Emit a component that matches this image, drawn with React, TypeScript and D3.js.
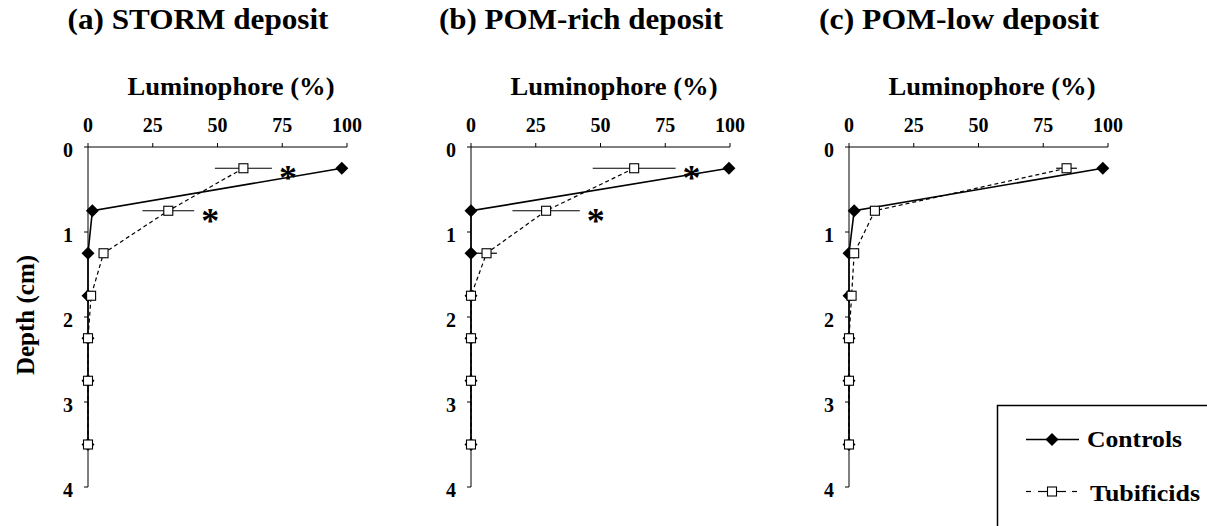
import React from 'react';
import * as d3 from 'd3';

// depth midpoints of each slice (cm)
const depths = [0.25, 0.75, 1.25, 1.75, 2.25, 2.75, 3.5];
const depthTicks = [0, 1, 2, 3, 4];
const lumTicks = [0, 25, 50, 75, 100];

const titles = ['(a) STORM deposit', '(b) POM-rich deposit', '(c) POM-low deposit'];
const titleWidths = [261, 284, 280];

const stormControls = [98, 1.7, 0, 0, 0, 0, 0];
const stormTubificids = [60, 31, 6, 1.2, 0, 0, 0];
const stormTubErr = [11, 10, 0, 0, 0, 0, 0];
const stormSignif = [true, true, false, false, false, false, false];

const richControls = [99.6, 0, 0, 0, 0, 0, 0];
const richTubificids = [63, 29, 6, 0, 0, 0, 0];
const richTubErr = [16, 13, 4, 0, 0, 0, 0];
const richSignif = [true, true, false, false, false, false, false];

const lowControls = [98, 2, 0, 0, 0, 0, 0];
const lowTubificids = [84, 10, 2, 1, 0, 0, 0];
const lowTubErr = [4, 0, 0, 0, 0, 0, 0];
const lowSignif = [false, false, false, false, false, false, false];

const FONT = '"Liberation Serif", "DejaVu Serif", "Times New Roman", serif';

const panels = [
  { title: titles[0], tw: titleWidths[0], controls: stormControls, tub: stormTubificids, err: stormTubErr, sig: stormSignif, left: 88 },
  { title: titles[1], tw: titleWidths[1], controls: richControls, tub: richTubificids, err: richTubErr, sig: richSignif, left: 471 },
  { title: titles[2], tw: titleWidths[2], controls: lowControls, tub: lowTubificids, err: lowTubErr, sig: lowSignif, left: 849 },
];

const diamond = (cx: number, cy: number) =>
  `M${cx},${cy - 6.5}L${cx + 6.5},${cy}L${cx},${cy + 6.5}L${cx - 6.5},${cy}Z`;

const txt = { fontFamily: FONT, fontWeight: 700 } as React.CSSProperties;

const Panel = ({ p }: { p: typeof panels[0] }) => {
  const x = d3.scaleLinear().domain([0, 100]).range([p.left, p.left + 259]);
  const y = d3.scaleLinear().domain([0, 4]).range([147, 487]);
  const line = d3.line<number>().x(d => x(d)).y((d, i) => y(depths[i]));

  return (
    <g>
      <text x={p.left + 110} y={29} textAnchor="middle" fontSize={29} style={txt}
        textLength={p.tw} lengthAdjust="spacingAndGlyphs">{p.title}</text>
      <text x={p.left + 143} y={95} textAnchor="middle" fontSize={25} style={txt}
        textLength={207} lengthAdjust="spacingAndGlyphs">Luminophore (%)</text>

      {/* top x axis */}
      <line x1={x(0)} x2={x(100)} y1={y(0)} y2={y(0)} stroke="#000" />
      {lumTicks.map(t => (
        <g key={t}>
          <line x1={x(t)} x2={x(t)} y1={y(0)} y2={y(0) - 4} stroke="#000" />
          <text x={x(t)} y={132} textAnchor="middle" fontSize={20} style={txt}>{t}</text>
        </g>
      ))}

      {/* left y axis */}
      <line x1={x(0)} x2={x(0)} y1={y(0)} y2={y(4)} stroke="#000" />
      {depthTicks.map(t => (
        <g key={t}>
          <line x1={x(0) - 4} x2={x(0)} y1={y(t)} y2={y(t)} stroke="#000" />
          <text x={x(0) - 15} y={y(t) + 10} textAnchor="end" fontSize={20} style={txt}>{t}</text>
        </g>
      ))}

      <path d={line(p.controls) || ''} fill="none" stroke="#000" strokeWidth={1.6} />
      <path d={line(p.tub) || ''} fill="none" stroke="#000" strokeWidth={1.2} strokeDasharray="4,3" />

      {p.err.map((e, i) => e > 0 ? (
        <line key={i} x1={x(p.tub[i] - e)} x2={x(p.tub[i] + e)} y1={y(depths[i])} y2={y(depths[i])}
          stroke="#000" strokeWidth={1.2} />
      ) : null)}

      {p.controls.map((v, i) => (
        <path key={i} d={diamond(x(v), y(depths[i]))} fill="#000" />
      ))}
      {p.tub.map((v, i) => (
        <rect key={i} x={x(v) - 4.5} y={y(depths[i]) - 4.5} width={9} height={9}
          fill="#fff" stroke="#000" strokeWidth={1.1} />
      ))}

      {p.sig.map((s, i) => s ? (
        <text key={i} x={x(p.tub[i] + p.err[i]) + 16} y={y(depths[i]) + 22} textAnchor="middle"
          fontSize={36} style={txt}>*</text>
      ) : null)}
    </g>
  );
};

export default function App() {
  return (
    <svg width={1207} height={526} style={{ position: 'absolute', left: 0, top: 0, background: '#fff' }}>
      {panels.map((p, i) => <Panel key={i} p={p} />)}

      <text transform="translate(34,315) rotate(-90)" textAnchor="middle" fontSize={25} style={txt}>
        Depth (cm)
      </text>

      {/* legend */}
      <rect x={997.5} y={405.5} width={230} height={140} fill="none" stroke="#000" strokeWidth={1.5} />
      <line x1={1026} x2={1079} y1={439.5} y2={439.5} stroke="#000" strokeWidth={1.6} />
      <path d={diamond(1052, 439.5)} fill="#000" />
      <text x={1087} y={447} fontSize={23} style={txt} textLength={95} lengthAdjust="spacingAndGlyphs">Controls</text>
      <line x1={1026} x2={1031} y1={491.5} y2={491.5} stroke="#000" strokeWidth={1.2} />
      <line x1={1038} x2={1066} y1={491.5} y2={491.5} stroke="#000" strokeWidth={1.2} />
      <line x1={1072} x2={1077} y1={491.5} y2={491.5} stroke="#000" strokeWidth={1.2} />
      <rect x={1047.5} y={487} width={9} height={9} fill="#fff" stroke="#000" strokeWidth={1.1} />
      <text x={1090} y={501} fontSize={23} style={txt} textLength={110} lengthAdjust="spacingAndGlyphs">Tubificids</text>
    </svg>
  );
}
